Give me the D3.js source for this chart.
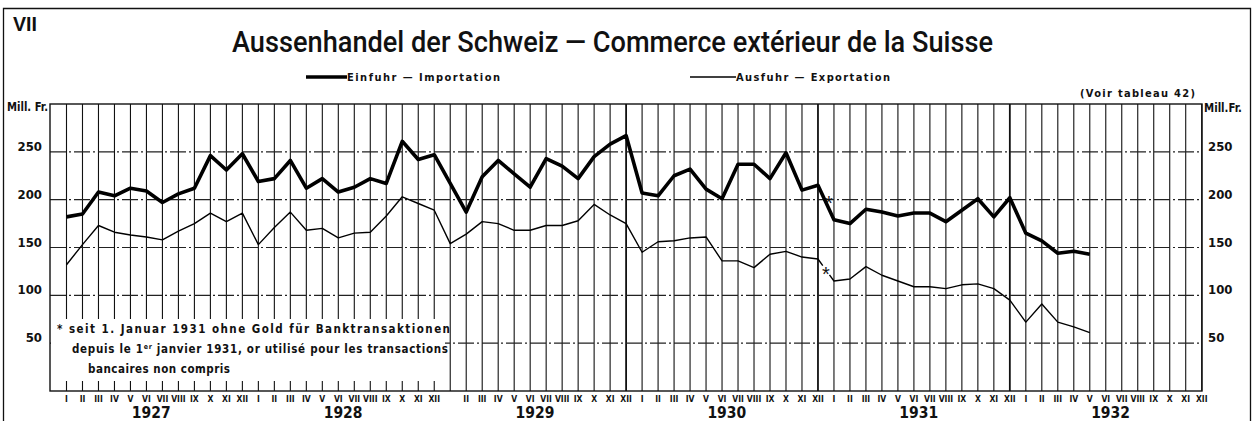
<!DOCTYPE html>
<html><head><meta charset="utf-8">
<script src="https://cdn.jsdelivr.net/npm/d3@7"></script>
<style>
html,body{margin:0;padding:0;background:#fff;}
svg{display:block;}
text{fill:#111;}
</style></head>
<body>
<svg id="c" width="1256" height="422"></svg>
<script>
// ---- data ----
const years = [1927, 1928, 1929, 1930, 1931, 1932];
const monthLabels = ["I","II","III","IV","V","VI","VII","VIII","IX","X","XI","XII"];
const yTicks = [50, 100, 150, 200, 250];
// monthly values, Mill. Fr., from Jan 1927
const imports = [
  182,185,208,204,212,209,197,206,212,246,231,248,
  219,222,241,212,222,208,213,222,217,261,242,247,
  217,187,224,241,227,213,243,235,222,245,258,267,
  207,204,225,232,211,201,237,237,222,249,210,215,
  179,175,190,187,183,186,186,177,189,201,182,202,
  165,157,144,146,143
];
const exports_ = [
  132,153,173,166,163,161,158,167,175,186,177,186,
  153,171,187,168,170,160,165,166,183,203,196,189,
  154,164,177,175,168,168,173,173,178,195,184,175,
  145,156,157,160,161,136,136,129,143,146,140,138,
  115,117,130,121,115,109,109,107,111,112,107,95,
  72,91,72,67,61
];
const breakIndex = 48; // Jan 1931: change of definition (*)
const missingTickLabel = [24]; // label not printed in original
const footnote = [
  "* seit 1. Januar 1931 ohne Gold für Banktransaktionen",
  "depuis le 1er janvier 1931, or utilisé pour les transactions",
  "bancaires non compris"
];

// ---- layout ----
const svg = d3.select("#c");
const L = 50, R = 1202, T = 104, B = 391;
const nMonths = years.length * 12;
const x = d3.scaleLinear().domain([0, nMonths - 1]).range([66.5, 1201.7]);
const y = d3.scaleLinear().domain([0, 300]).range([B, T]);
const cond = "'DejaVu Sans Condensed','DejaVu Sans',sans-serif";
const sans = "'Liberation Sans','Arial',sans-serif";

// outer frame
svg.append("path").attr("d", `M3.5,421 V8.5 H1250.5 V421`)
  .attr("fill","none").attr("stroke","#111").attr("stroke-width",1.3);

// grid: vertical month lines
svg.append("g").selectAll("line").data(d3.range(nMonths)).join("line")
  .attr("x1", d => x(d)).attr("x2", d => x(d))
  .attr("y1", T).attr("y2", B)
  .attr("stroke", "#111")
  .attr("stroke-width", d => (d % 12 === 11 && d > 30 && d < 60) ? 1.8 : 1.1);

// horizontal grid (dash-dot)
svg.append("g").selectAll("line").data(yTicks).join("line")
  .attr("x1", L).attr("x2", R).attr("y1", d => y(d)).attr("y2", d => y(d))
  .attr("stroke", "#222").attr("stroke-width", 1.1)
  .attr("stroke-dasharray", "16,3,2,3");

// white box for footnote
svg.append("rect").attr("x", L + 1).attr("y", 319).attr("width", 394).attr("height", 62)
  .attr("fill", "#fff");

// plot frame
svg.append("rect").attr("x", L).attr("y", T).attr("width", R - L).attr("height", B - T)
  .attr("fill", "none").attr("stroke", "#111").attr("stroke-width", 1.4);

// y labels
const yl = svg.append("g").attr("font-family", cond).attr("font-weight", "bold").attr("font-size", 13);
yl.selectAll("text.l").data(yTicks).join("text").attr("class","l")
  .attr("x", 42).attr("y", d => y(d) - 1).attr("text-anchor","end").text(d => d);
yl.selectAll("text.r").data(yTicks).join("text").attr("class","r")
  .attr("x", 1208).attr("y", d => y(d) - 1).attr("text-anchor","start").text(d => d);
svg.append("text").attr("x", 7).attr("y", 111).attr("font-family", cond).attr("font-weight","bold")
  .attr("font-size", 11.5).attr("textLength", 41).attr("lengthAdjust","spacingAndGlyphs").text("Mill. Fr.");
svg.append("text").attr("x", 1204).attr("y", 112).attr("font-family", cond).attr("font-weight","bold")
  .attr("font-size", 11.5).attr("textLength", 38).attr("lengthAdjust","spacingAndGlyphs").text("Mill.Fr.");

// x labels
const xl = svg.append("g").attr("font-family", cond).attr("font-weight","bold").attr("font-size", 8.5)
  .attr("text-anchor","middle");
xl.selectAll("text").data(d3.range(nMonths).filter(i => !missingTickLabel.includes(i))).join("text")
  .attr("x", d => x(d)).attr("y", 402).text(d => monthLabels[d % 12]);
svg.append("g").attr("font-family", cond).attr("font-weight","bold").attr("font-size", 15.5)
  .attr("text-anchor","middle")
  .selectAll("text").data(years).join("text")
  .attr("x", (d, i) => x(i * 12 + 5.3)).attr("y", 418).text(d => d);

// lines
const line = d3.line().x(d => x(d[0])).y(d => y(d[1]));
const impPts = imports.map((v, i) => [i, v]);
svg.append("path").attr("d", line(impPts)).attr("fill","none")
  .attr("stroke","#000").attr("stroke-width", 3.6).attr("stroke-linejoin","round");

const expPts = exports_.map((v, i) => [i, v]);
const before = expPts.slice(0, breakIndex);
const after = expPts.slice(breakIndex);
const a = expPts[breakIndex - 1], b = expPts[breakIndex];
const lerp = (t) => [a[0] + (b[0] - a[0]) * t, a[1] + (b[1] - a[1]) * t];
const eStyle = p => p.attr("fill","none").attr("stroke","#000").attr("stroke-width",1.4).attr("stroke-linejoin","round");
eStyle(svg.append("path").attr("d", line(before.concat([lerp(0.3)]))));
eStyle(svg.append("path").attr("d", line([lerp(0.72)].concat(after))));

// asterisks at the break
const mid = (arr) => [(breakIndex - 0.5), (arr[breakIndex - 1] + arr[breakIndex]) / 2];
[[imports, 3, 7], [exports_, 0, 11]].forEach(([arr, dx, dy]) => {
  const m = mid(arr);
  svg.append("text").attr("x", x(m[0]) + dx).attr("y", y(m[1]) + dy)
    .attr("font-family", sans).attr("font-size", 20).attr("text-anchor","middle").text("*");
});

// footnote
const fn = svg.append("g").attr("font-family", cond).attr("font-weight","bold").attr("font-size", 11.5);
fn.append("text").attr("x", 57).attr("y", 333).attr("textLength", 393).attr("lengthAdjust","spacing").text(footnote[0]);
const f2 = fn.append("text").attr("x", 72).attr("y", 353).attr("textLength", 376).attr("lengthAdjust","spacing");
f2.append("tspan").text("depuis le 1");
f2.append("tspan").attr("font-size", 7).attr("dy", -4).text("er");
f2.append("tspan").attr("dy", 4).text(" janvier 1931, or utilisé pour les transactions");
fn.append("text").attr("x", 88).attr("y", 373).attr("textLength", 142).attr("lengthAdjust","spacing").text(footnote[2]);

// title etc.
svg.append("text").attr("x", 13).attr("y", 31).attr("font-family", sans).attr("font-weight","bold")
  .attr("font-size", 20).attr("textLength", 24).attr("lengthAdjust","spacingAndGlyphs").text("VII");
svg.append("text").attr("x", 232).attr("y", 52).attr("font-family", "Roboto, 'Liberation Sans', sans-serif")
  .attr("font-weight", 500).attr("font-size", 29)
  .attr("textLength", 761).attr("lengthAdjust","spacingAndGlyphs")
  .text("Aussenhandel der Schweiz — Commerce extérieur de la Suisse");

// legend
svg.append("line").attr("x1", 306).attr("x2", 347).attr("y1", 77).attr("y2", 77)
  .attr("stroke","#000").attr("stroke-width", 3.6);
svg.append("text").attr("x", 347).attr("y", 81).attr("font-family", cond).attr("font-weight","bold")
  .attr("font-size", 11).attr("textLength", 153).attr("lengthAdjust","spacing").text("Einfuhr — Importation");
svg.append("line").attr("x1", 690).attr("x2", 736).attr("y1", 77).attr("y2", 77)
  .attr("stroke","#000").attr("stroke-width", 1.4);
svg.append("text").attr("x", 736).attr("y", 81).attr("font-family", cond).attr("font-weight","bold")
  .attr("font-size", 11).attr("textLength", 154).attr("lengthAdjust","spacing").text("Ausfuhr — Exportation");
svg.append("text").attr("x", 1080).attr("y", 97).attr("font-family", cond).attr("font-weight","bold")
  .attr("font-size", 11).attr("textLength", 115).attr("lengthAdjust","spacing").text("(Voir tableau 42)");
</script>
</body></html>
